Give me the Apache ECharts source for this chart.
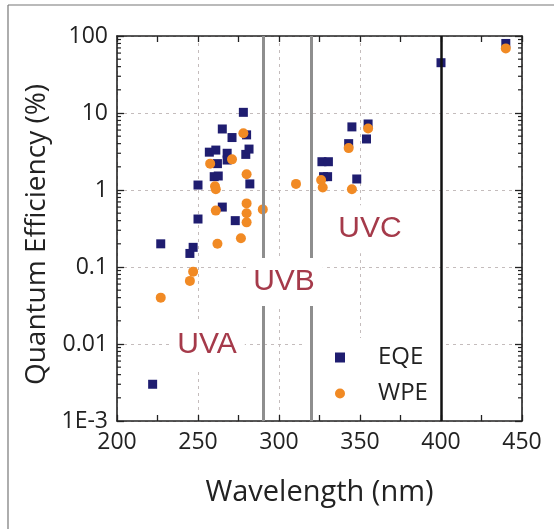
<!DOCTYPE html>
<html>
<head>
<meta charset="utf-8">
<script src="https://cdn.jsdelivr.net/npm/echarts@6/dist/echarts.min.js"></script>
<style>
  html, body { margin: 0; padding: 0; background: #fff; }
  #chart { width: 554px; height: 529px; }
</style>
</head>
<body>
<div id="chart"></div>
<script>
// External quantum efficiency of reported UV LEDs (%)
const eqeWavelength = [222, 227, 245, 247, 250, 250, 257, 260, 261, 262, 262.5, 265, 265, 268, 268, 271, 273, 278, 279.5, 280, 281.5, 282, 326.5, 330.5, 327.5, 330, 343, 345, 348, 354, 355, 400, 440];
const eqeValue      = [0.003, 0.2, 0.15, 0.18, 0.42, 1.16, 3.1, 1.49, 3.3, 2.2, 1.52, 6.2, 0.6, 3.0, 2.45, 4.8, 0.4, 10.2, 2.9, 5.2, 3.4, 1.2, 2.33, 2.33, 1.49, 1.49, 4.0, 6.6, 1.39, 4.6, 7.2, 45, 80];

// Wall-plug efficiency (%)
const wpeWavelength = [227, 245, 247, 257.5, 260.5, 261, 261, 262, 271, 276.5, 278, 280, 280, 280, 280, 290, 310.5, 326, 327, 343, 345, 355, 440];
const wpeValue      = [0.04, 0.066, 0.087, 2.2, 1.12, 1.02, 0.54, 0.2, 2.5, 0.236, 5.45, 1.6, 0.67, 0.5, 0.38, 0.56, 1.2, 1.35, 1.08, 3.5, 1.02, 6.3, 69];

// Band boundaries (nm): UVC/UVB, UVB/UVA, UVA/visible
const bandEdges = [290, 320, 400];
const bandNames = ['UVA', 'UVB', 'UVC'];

// Axis ticks
const xTickValues = [200, 250, 300, 350, 400, 450];
const yTickValues = [0.001, 0.01, 0.1, 1, 10, 100];
const yTickLabels = ['1E-3', '0.01', '0.1', '1', '10', '100'];
const yMinorMultipliers = [2, 3, 4, 5, 6, 7, 8, 9];

// Anchor points (data space) for the band names
const bandLabelAnchors = [[256.2, 0.0099], [303.7, 0.064], [356.8, 0.31]];

const X_MIN = xTickValues[0], X_MAX = xTickValues[xTickValues.length - 1];
const Y_MIN = yTickValues[0], Y_MAX = yTickValues[yTickValues.length - 1];

const yMinorTicks = [];
yTickValues.slice(0, -1).forEach(d => yMinorMultipliers.forEach(m => yMinorTicks.push([X_MIN, d * m])));

const FONT = '"Open Sans", "Noto Sans", sans-serif';
const INK = '#222';

function yLabel(v) {
  const k = Math.round(Math.log10(v));
  const i = yTickValues.findIndex(t => Math.round(Math.log10(t)) === k);
  return i >= 0 ? yTickLabels[i] : '';
}

const chart = echarts.init(document.getElementById('chart'), null, { renderer: 'canvas' });

const tickInside = { show: true, inside: true, length: 6, lineStyle: { color: INK, width: 1.3 } };
const minorInside = { show: true, splitNumber: 2, length: 6, lineStyle: { color: INK, width: 1.3 } };
const dashed = { show: true, lineStyle: { color: '#c4bcbc', type: [3, 4], width: 1 } };
const axisLine = { show: true, onZero: false, lineStyle: { color: INK, width: 1.6 } };

chart.setOption({
  animation: false,
  backgroundColor: '#fff',
  grid: { left: 117, right: 32, top: 36, bottom: 108, containLabel: false, outerBoundsMode: 'none' },
  graphic: [
    { type: 'line', shape: { x1: 8, y1: 5, x2: 554, y2: 5 }, style: { stroke: '#777', lineWidth: 1.2 }, silent: true },
    { type: 'line', shape: { x1: 8, y1: 5, x2: 8, y2: 529 }, style: { stroke: '#777', lineWidth: 1.2 }, silent: true }
  ],
  legend: {
    data: [{ name: 'EQE', icon: 'rect' }, { name: 'WPE', icon: 'circle' }],
    orient: 'vertical',
    left: 302, top: 338,
    padding: [6, 14, 6, 33],
    backgroundColor: '#fff',
    itemWidth: 10, itemHeight: 10,
    itemGap: 9,
    itemStyle: { opacity: 1 },
    textStyle: { fontFamily: FONT, fontSize: 24, color: INK, padding: [0, 0, 0, 28], lineHeight: 27 },
    selectedMode: false
  },
  xAxis: [
    {
      type: 'value', min: X_MIN, max: X_MAX, interval: 50, position: 'bottom',
      name: 'Wavelength (nm)', nameLocation: 'middle', nameGap: 57,
      nameTextStyle: { fontFamily: FONT, fontSize: 29, color: INK },
      axisLine, axisTick: tickInside, minorTick: minorInside,
      axisLabel: { fontFamily: FONT, fontSize: 23, color: INK, margin: 10 },
      splitLine: dashed
    },
    {
      type: 'value', min: X_MIN, max: X_MAX, interval: 50, position: 'top',
      axisLine, axisTick: tickInside, minorTick: minorInside,
      axisLabel: { show: false }, splitLine: { show: false }
    }
  ],
  yAxis: [
    {
      type: 'log', logBase: 10, min: Y_MIN, max: Y_MAX, position: 'left',
      name: 'Quantum Efficiency (%)', nameLocation: 'middle', nameGap: 63,
      nameTextStyle: { fontFamily: FONT, fontSize: 28, color: INK, padding: [0, 12, 0, 0] },
      axisLine, axisTick: { ...tickInside, length: 7 },
      axisLabel: { fontFamily: FONT, fontSize: 23, color: INK, margin: 9, formatter: yLabel },
      splitLine: dashed
    },
    {
      type: 'log', logBase: 10, min: Y_MIN, max: Y_MAX, position: 'right',
      axisLine, axisTick: { ...tickInside, length: 7 },
      axisLabel: { show: false }, splitLine: { show: false }
    }
  ],
  series: [
    {
      // logarithmic minor ticks on the left and right frames
      type: 'custom', name: 'minorTicks', silent: true, z: 3,
      xAxisIndex: 0, yAxisIndex: 0,
      data: yMinorTicks,
      encode: { x: 0, y: 1 },
      clip: false,
      renderItem: function (params, api) {
        const cs = params.coordSys;
        const y = api.coord([api.value(0), api.value(1)])[1];
        const st = { stroke: INK, lineWidth: 1.2 };
        return {
          type: 'group',
          children: [
            { type: 'line', shape: { x1: cs.x, y1: y, x2: cs.x + 4, y2: y }, style: st },
            { type: 'line', shape: { x1: cs.x + cs.width, y1: y, x2: cs.x + cs.width - 4, y2: y }, style: st }
          ]
        };
      }
    },
    {
      name: 'EQE', type: 'scatter', symbol: 'rect', symbolSize: 9, z: 3,
      itemStyle: { color: '#1f1d70', opacity: 1 },
      data: eqeWavelength.map((w, i) => [w, eqeValue[i]])
    },
    {
      name: 'WPE', type: 'scatter', symbol: 'circle', symbolSize: 10, z: 3,
      itemStyle: { color: '#f18a24', opacity: 1 },
      data: wpeWavelength.map((w, i) => [w, wpeValue[i]])
    },
    {
      // band boundaries
      name: 'bands', type: 'line', data: [], z: 5, silent: true,
      markLine: {
        silent: true, symbol: 'none', animation: false,
        label: { show: false },
        data: bandEdges.map((x, i) => ({
          xAxis: x,
          lineStyle: i < 2 ? { color: '#8e8e8e', width: 3, type: 'solid', opacity: 1 } : { color: '#111', width: 2.5, type: 'solid', opacity: 1 }
        }))
      }
    },
    {
      // band names
      name: 'bandNames', type: 'scatter', symbolSize: 1, z: 6, silent: true,
      itemStyle: { color: 'rgba(0,0,0,0)', opacity: 1 },
      data: bandLabelAnchors.map((p, i) => ({ value: p, name: bandNames[i] })),
      label: {
        show: true, position: 'inside', formatter: '{b}', opacity: 1,
        fontFamily: '"Liberation Sans", Arial, sans-serif', fontSize: 30, color: '#a53a4a',
        backgroundColor: '#fff', padding: [9, 8, 9, 6]
      }
    }
  ]
});
</script>
</body>
</html>
